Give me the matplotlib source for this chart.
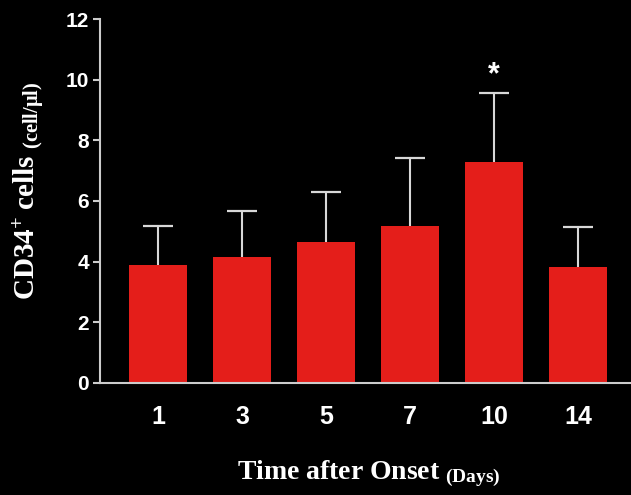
import matplotlib
matplotlib.use("Agg")
import matplotlib.pyplot as plt
import numpy as np

days = ["1", "3", "5", "7", "10", "14"]
means = [3.9, 4.15, 4.65, 5.18, 7.3, 3.82]
sd_upper = [1.28, 1.52, 1.65, 2.24, 2.27, 1.32]
sig = ["", "", "", "", "*", ""]

plt.rcParams['mathtext.fontset'] = 'custom'
plt.rcParams['mathtext.rm'] = 'Liberation Serif'
plt.rcParams['mathtext.bf'] = 'Liberation Serif:bold'
plt.rcParams['mathtext.it'] = 'Liberation Serif:italic'

fig = plt.figure(figsize=(6.31, 4.95), dpi=100, facecolor='black')
ax = fig.add_axes([0.1585, 0.2263, 0.8415, 0.7353])
ax.set_facecolor('black')

x = np.arange(len(days))
tops = np.array(means) + np.array(sd_upper)
ax.bar(x, means, width=0.69, color='#e41e1a', zorder=2)
ax.errorbar(x, means, yerr=[np.zeros(len(means)), sd_upper], fmt='none',
            ecolor='#d8d8d8', elinewidth=1.5, capsize=0, zorder=1)
ax.plot(x, tops, ls='none', marker='_', markersize=21, markeredgewidth=1.6,
        color='#d8d8d8', zorder=1)

for xi, tp, t in zip(x, tops, sig):
    if t:
        ax.annotate(t, (xi, tp), xytext=(0, 2), textcoords='offset points',
                    ha='center', va='bottom', color='white', fontsize=22,
                    fontweight='bold', family='Liberation Sans')

ax.set_xlim(-0.69, 5.63)
ax.set_ylim(0, 12)
ax.set_yticks(range(0, 13, 2))
ax.set_xticks(x)
ax.set_xticklabels(days)

for sp in ['top', 'right']:
    ax.spines[sp].set_visible(False)
for sp in ['left', 'bottom']:
    ax.spines[sp].set_color('#cccccc')
    ax.spines[sp].set_linewidth(1.5)

ax.tick_params(axis='y', colors='#cccccc', length=5, width=1.5, direction='out',
               labelcolor='white', labelsize=15, pad=3)
ax.tick_params(axis='x', length=0, labelcolor='white', labelsize=18, pad=16)
for lab in ax.get_xticklabels() + ax.get_yticklabels():
    lab.set_fontfamily('Liberation Sans')
    lab.set_fontweight('bold')

fig.text(0.047, 0.614, r'$\mathbf{CD34^{+}\ cells}\ _{\mathbf{(cell/\mu l)}}$',
         rotation=90, ha='center', va='center', color='white', fontsize=21)
fig.text(0.585, 0.044, r'$\mathbf{Time\ after\ Onset}\ _{\mathbf{(Days)}}$',
         ha='center', va='center', color='white', fontsize=20)

fig.savefig('out.png', dpi=100, facecolor='black')
